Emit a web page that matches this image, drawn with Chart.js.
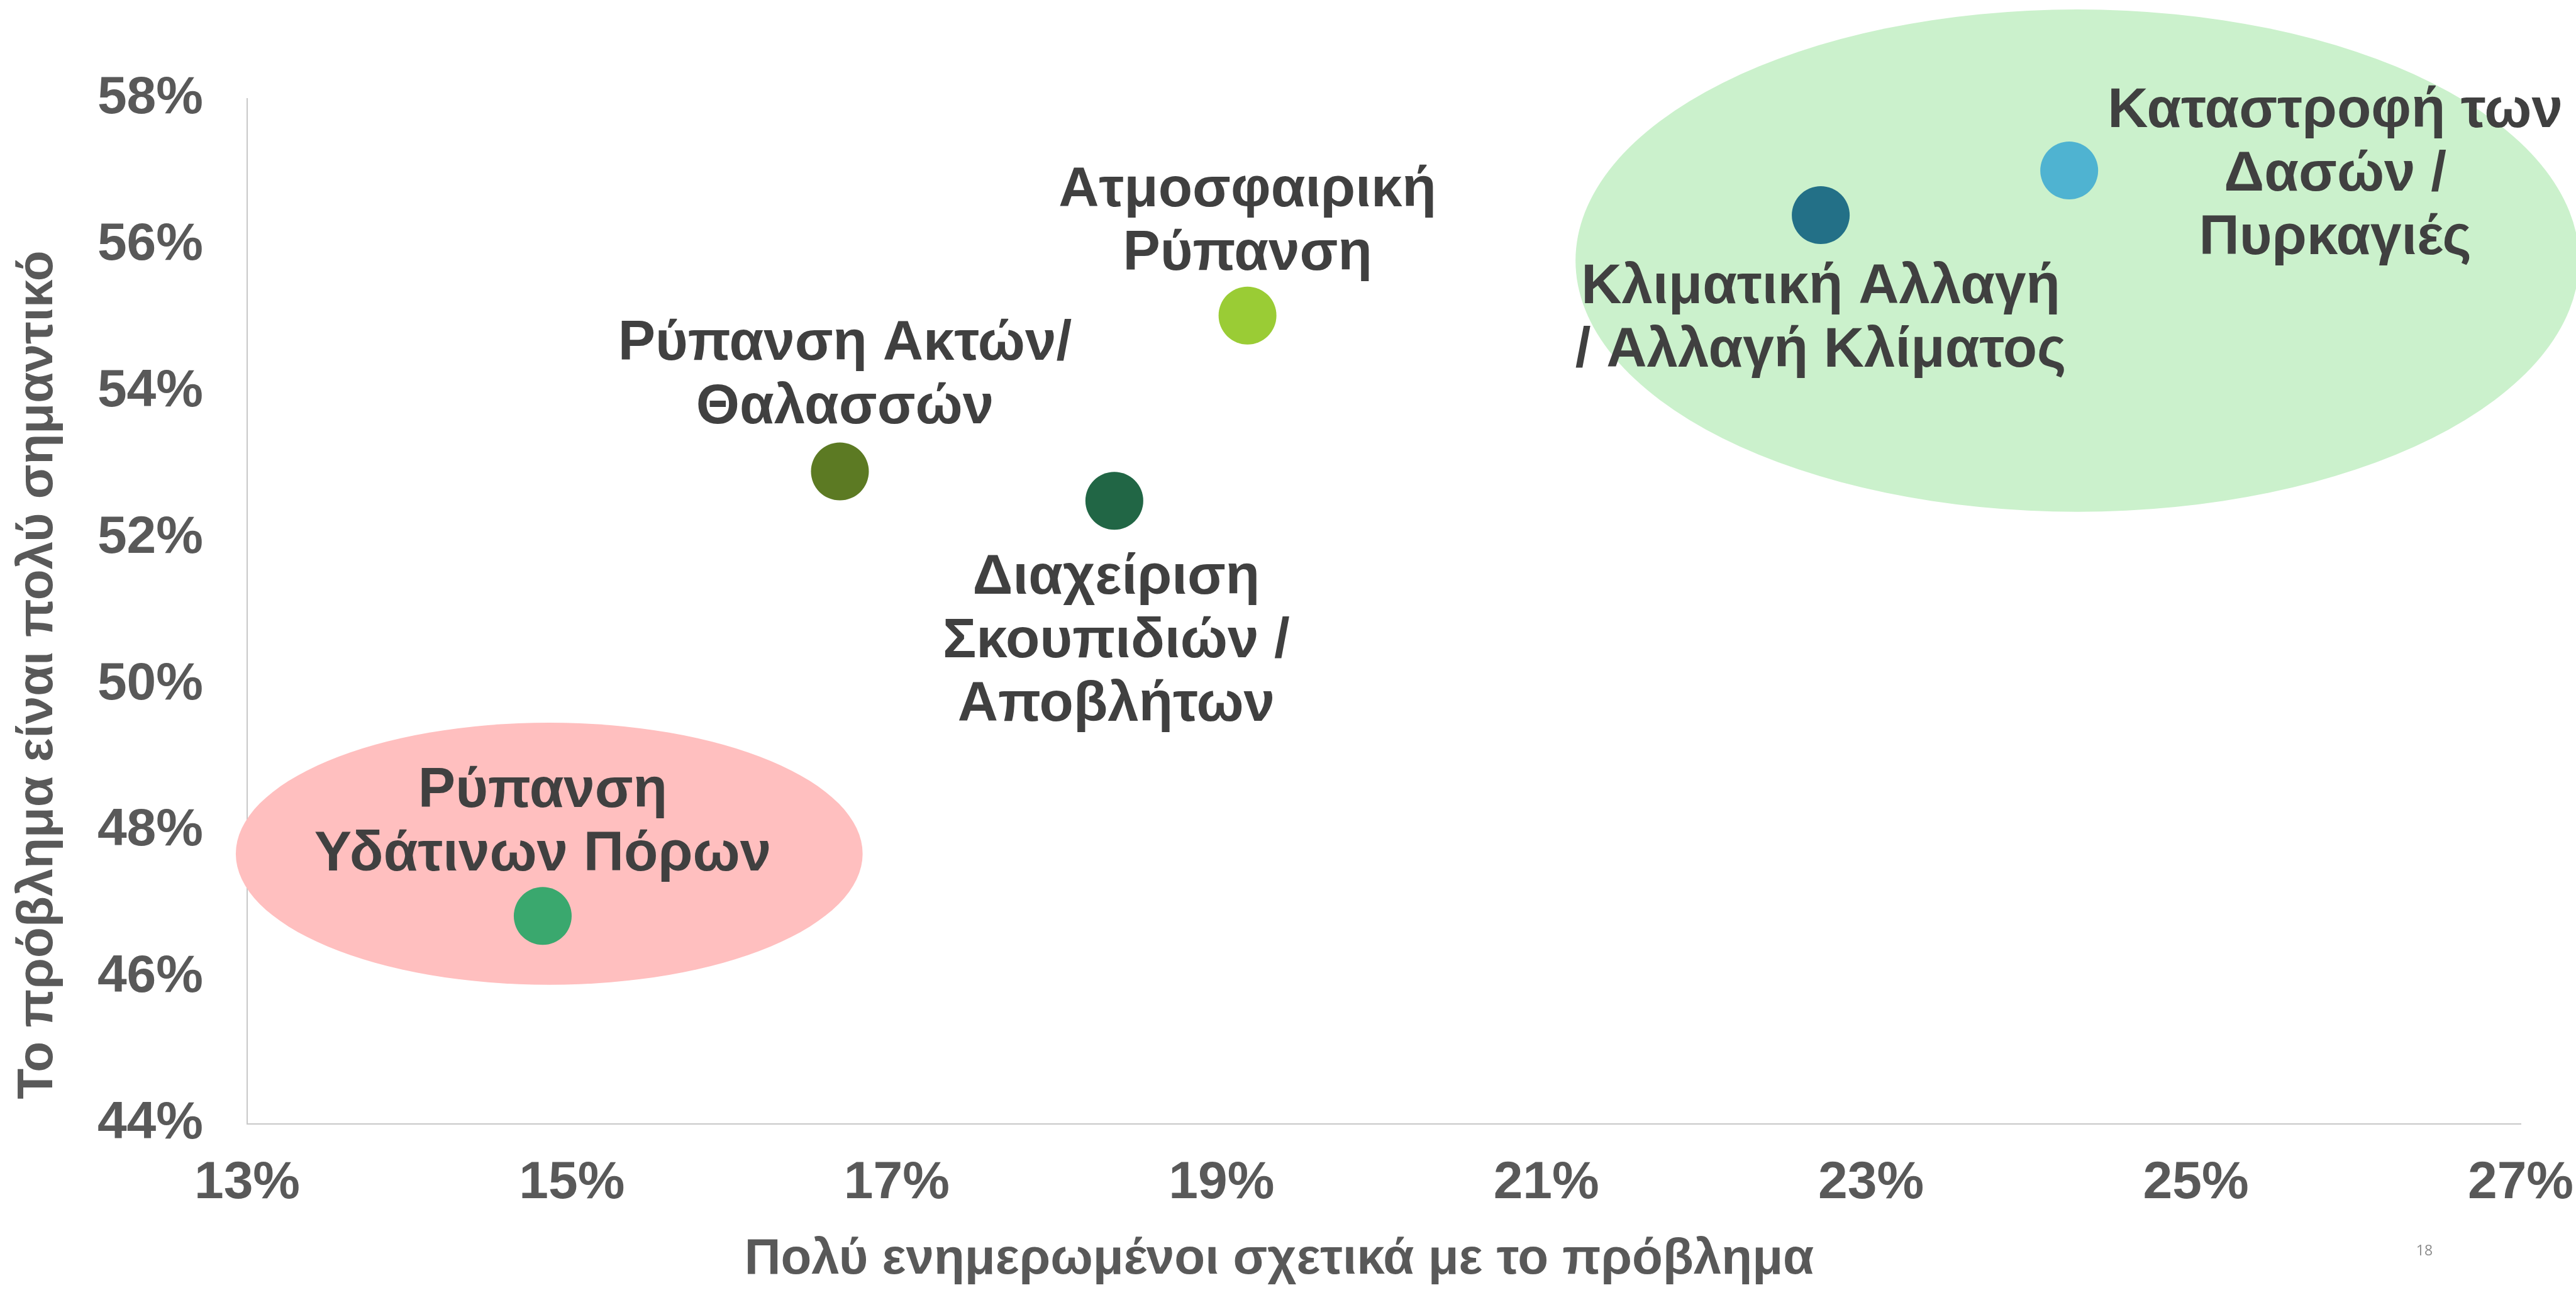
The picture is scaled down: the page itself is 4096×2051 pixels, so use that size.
<!DOCTYPE html>
<html>
<head>
<meta charset="utf-8">
<script src="https://cdn.jsdelivr.net/npm/chart.js@4/dist/chart.umd.min.js"></script>
<style>
  html, body { margin: 0; padding: 0; background: #fff; }
  #wrap { width: 4096px; height: 2051px; position: relative; }
</style>
</head>
<body>
<div id="wrap"><canvas id="chart"></canvas></div>
<script>
// data (values in %)
const issues = [
  ['Ρύπανση', 'Υδάτινων Πόρων'],
  ['Ρύπανση Ακτών/', 'Θαλασσών'],
  ['Διαχείριση', 'Σκουπιδιών /', 'Αποβλήτων'],
  ['Ατμοσφαιρική', 'Ρύπανση'],
  ['Κλιματική Αλλαγή', '/ Αλλαγή Κλίματος'],
  ['Καταστροφή των', 'Δασών /', 'Πυρκαγιές']
];
const informed  = [14.82, 16.65, 18.34, 19.16, 22.69, 24.22];
const important = [46.84, 52.91, 52.51, 55.04, 56.41, 57.02];
const xTicks = [13, 15, 17, 19, 21, 23, 25, 27];
const yTicks = [44, 46, 48, 50, 52, 54, 56, 58];
const xTitle = 'Πολύ ενημερωμένοι σχετικά με το πρόβλημα';
const yTitle = 'Το πρόβλημα είναι πολύ σημαντικό';
const pageNo = '18';

// highlighted zones, in axis units: [x, y] centre and [x, y] radius
const zoneCentres = [[14.86, 47.69], [24.27, 55.79]];
const zoneRadii   = [[1.93, 1.79], [3.09, 3.43]];

// styles
const dotColors  = ['#3AA86E', '#5C7A23', '#216645', '#9ACC35', '#237087', '#4FB3D1'];
const zoneColors = ['#FFBFBF', '#CBF1CC'];
const labelFont = 'bold 89px "Liberation Sans", Arial, sans-serif';
const labelLine = 101;
// label offset from the dot (first line centre), px
const labelOffsets = [[0, -198], [8, -202], [3, 123], [0, -198], [0, 115], [423, -94]];

const zones = {
  id: 'zones',
  beforeDatasetsDraw(chart) {
    const {ctx, scales: {x, y}} = chart;
    ctx.save();
    zoneCentres.forEach((c, i) => {
      const px = x.getPixelForValue(c[0]);
      const py = y.getPixelForValue(c[1]);
      const rx = Math.abs(x.getPixelForValue(c[0] + zoneRadii[i][0]) - px);
      const ry = Math.abs(y.getPixelForValue(c[1] + zoneRadii[i][1]) - py);
      ctx.beginPath();
      ctx.ellipse(px, py, rx, ry, 0, 0, Math.PI * 2);
      ctx.fillStyle = zoneColors[i];
      ctx.fill();
    });
    ctx.restore();
  }
};

const pointLabels = {
  id: 'pointLabels',
  afterDatasetsDraw(chart) {
    const ctx = chart.ctx;
    const meta = chart.getDatasetMeta(0);
    ctx.save();
    ctx.font = labelFont;
    ctx.fillStyle = '#404040';
    ctx.textAlign = 'center';
    ctx.textBaseline = 'middle';
    meta.data.forEach((pt, i) => {
      const o = labelOffsets[i];
      issues[i].forEach((line, j) => {
        ctx.fillText(line, pt.x + o[0], pt.y + o[1] + j * labelLine);
      });
    });
    ctx.restore();
  }
};

// axis titles sit off-centre on the slide, so they are drawn here
const axisTitles = {
  id: 'axisTitles',
  afterDraw(chart) {
    const ctx = chart.ctx;
    ctx.save();
    ctx.font = 'bold 80px "Liberation Sans", Arial, sans-serif';
    ctx.fillStyle = '#595959';
    ctx.textAlign = 'center';
    ctx.textBaseline = 'middle';
    ctx.fillText(xTitle, 2034, 2003);
    ctx.translate(61, 1073);
    ctx.rotate(-Math.PI / 2);
    ctx.fillText(yTitle, 0, 0);
    ctx.restore();

    ctx.save();
    ctx.font = '23px "Open Sans", sans-serif';
    ctx.fillStyle = '#8C8C8C';
    ctx.textAlign = 'center';
    ctx.textBaseline = 'middle';
    ctx.fillText(pageNo, 3855, 1989);
    ctx.restore();
  }
};

const tickFont = {family: '"Liberation Sans", Arial, sans-serif', size: 84, weight: 'bold'};
const axisBorder = {display: true, color: '#C8C8C8', width: 2};

new Chart(document.getElementById('chart'), {
  type: 'scatter',
  data: {
    labels: issues.map(l => l.join(' ')),
    datasets: [{
      data: informed.map((v, i) => ({x: v, y: important[i]})),
      backgroundColor: dotColors,
      borderWidth: 0,
      pointRadius: 46,
      pointHoverRadius: 46,
      clip: false
    }]
  },
  options: {
    responsive: true,
    maintainAspectRatio: false,
    animation: false,
    layout: {padding: {left: 0, right: 88, top: 157, bottom: 0}},
    plugins: {legend: {display: false}, tooltip: {enabled: false}},
    scales: {
      x: {
        type: 'linear',
        min: xTicks[0],
        max: xTicks[xTicks.length - 1],
        grid: {display: false, drawTicks: false},
        border: axisBorder,
        ticks: {stepSize: 2, padding: 44, color: '#595959', font: tickFont,
                callback: v => v + '%'},
        afterFit: s => { s.height = 264; s.paddingLeft = 0; s.paddingRight = 0; }
      },
      y: {
        type: 'linear',
        min: yTicks[0],
        max: yTicks[yTicks.length - 1],
        grid: {display: false, drawTicks: false},
        border: axisBorder,
        ticks: {stepSize: 2, padding: 70, color: '#595959', font: tickFont,
                callback: v => v + '%'},
        afterFit: s => { s.width = 393; s.paddingTop = 0; s.paddingBottom = 0; }
      }
    }
  },
  plugins: [zones, pointLabels, axisTitles]
});
</script>
</body>
</html>
